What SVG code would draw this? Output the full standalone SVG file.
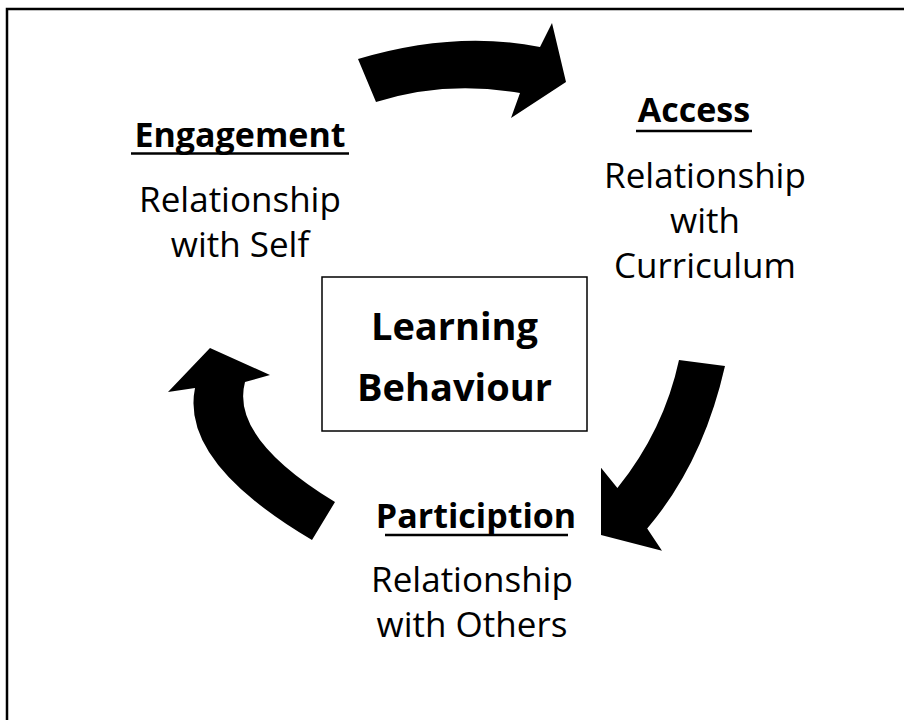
<svg xmlns="http://www.w3.org/2000/svg" width="904" height="720" viewBox="0 0 904 720">
<style>
.t{font-family:"Open Sans","Noto Sans","Liberation Sans",sans-serif;fill:#000;text-anchor:middle}
.h{font-weight:bold;font-size:34px}
.b{font-size:35px}
.c{font-weight:bold;font-size:38px}
.u{stroke:#000;stroke-width:2.5}
.arr{fill:#000;stroke:none}
</style>
<rect x="0" y="0" width="904" height="720" fill="#fff"/>
<path d="M7,720 L7,9 L904,9" fill="none" stroke="#000" stroke-width="2.5"/>
<g id="connectors">
<path class="arr" d="M358,59 Q455,30 540,47 L552,23 L566,82 L511,118 L520,93 Q445,80 376,102 Z"/>
<path class="arr" d="M725,366 Q703,463 647.2,528.5 L662,550.8 L601,535 L601,467.8 L617.4,488.1 Q664,430 679,360 Z"/>
<path class="arr" d="M312,540 Q180,462 195,388 L168,392 L210,348 L270,375 L245,382 Q230,438 335,502 Z"/>
</g>
<g id="engagement">
<text class="t h" x="240" y="147">Engagement</text>
<line class="u" x1="131" y1="153.5" x2="349" y2="153.5"/>
<text class="t b" x="240" y="212">Relationship</text>
<text class="t b" x="240" y="257">with Self</text>
</g>
<g id="access">
<text class="t h" x="694" y="122">Access</text>
<line class="u" x1="636" y1="131" x2="752" y2="131"/>
<text class="t b" x="705" y="188">Relationship</text>
<text class="t b" x="705" y="233">with</text>
<text class="t b" x="705" y="278">Curriculum</text>
</g>
<g id="participation">
<text class="t h" x="476" y="528">Particiption</text>
<line class="u" x1="385" y1="535" x2="568" y2="535"/>
<text class="t b" x="472" y="592">Relationship</text>
<text class="t b" x="472" y="637">with Others</text>
</g>
<g id="learning">
<rect x="322" y="277" width="265" height="154" fill="#fff" stroke="#000" stroke-width="1.5"/>
<text class="t c" x="454.5" y="340">Learning</text>
<text class="t c" x="454.5" y="401">Behaviour</text>
</g>
</svg>
